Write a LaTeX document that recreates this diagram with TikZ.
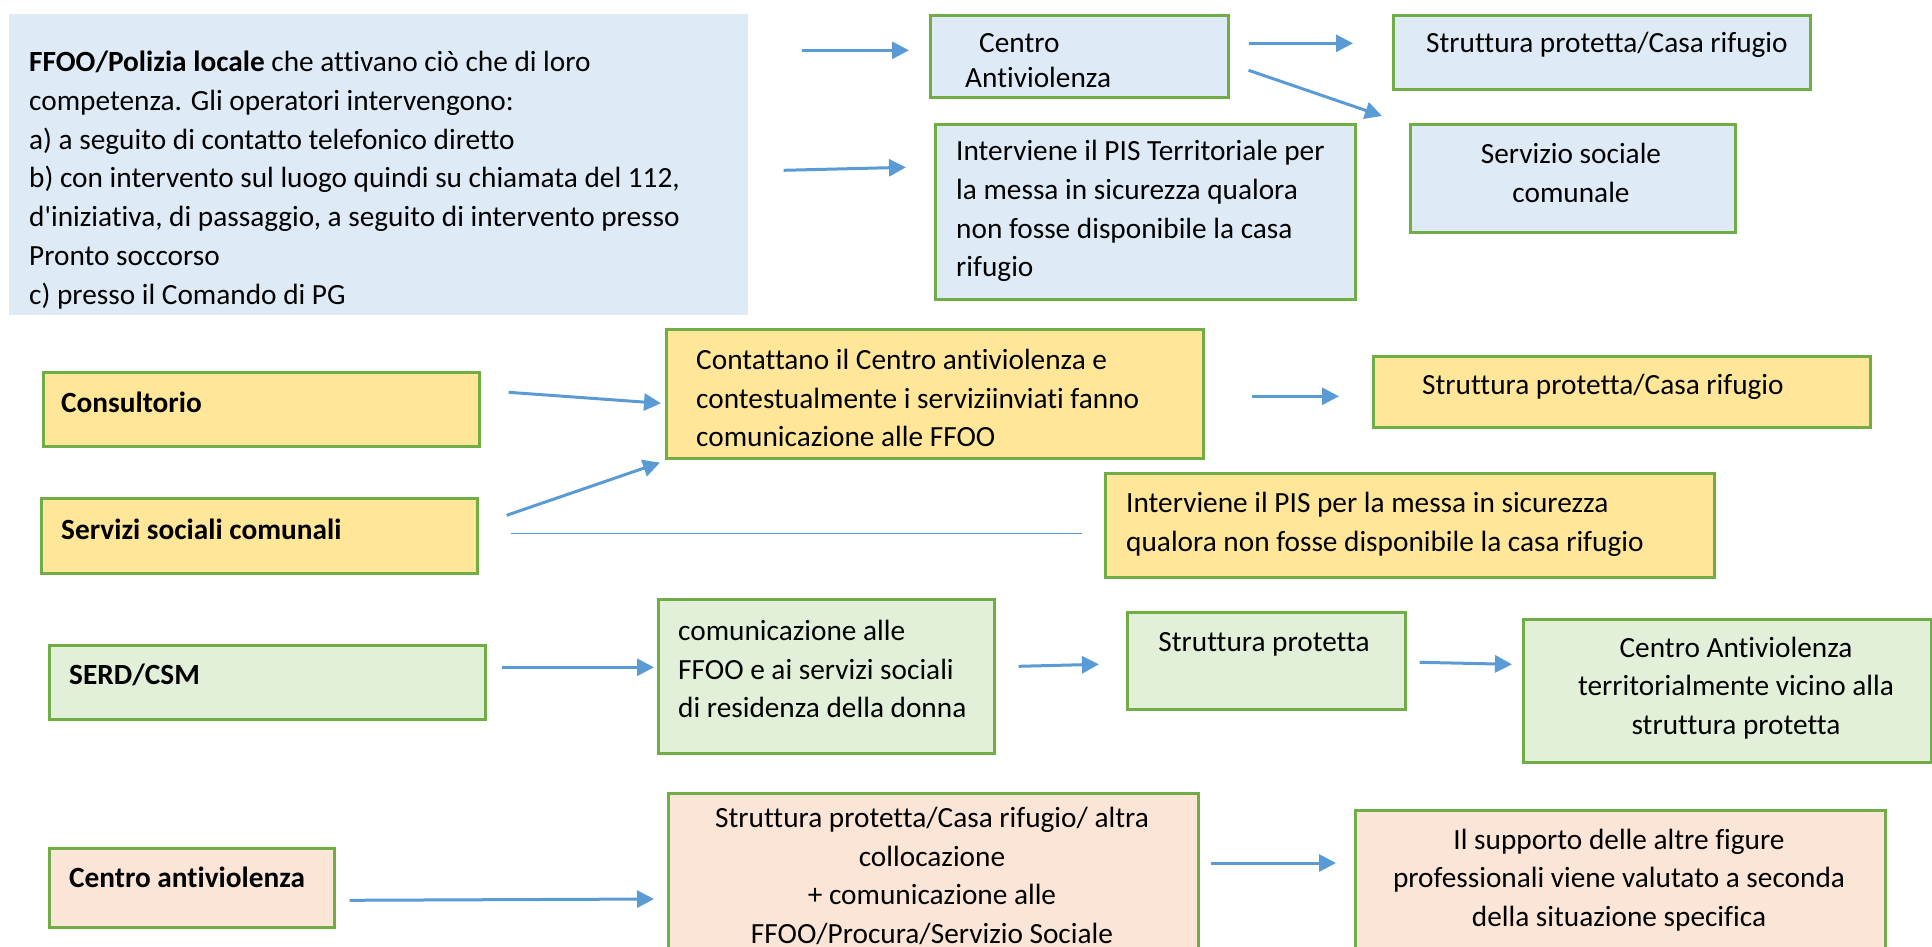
\documentclass[tikz,border=0pt]{standalone}
\usepackage{fontspec}
\setmainfont{Carlito}[Ligatures={TeX,NoCommon}]
\usetikzlibrary{arrows.meta}

\definecolor{bluefill}{HTML}{DEEBF7}
\definecolor{yellowfill}{HTML}{FFE699}
\definecolor{greenfill}{HTML}{E2F0D9}
\definecolor{peachfill}{HTML}{FBE5D6}
\definecolor{boxline}{HTML}{70AD47}
\definecolor{arrowblue}{HTML}{5B9BD5}

\tikzset{
  box/.style={draw=boxline, line width=2.6pt, anchor=north west, inner sep=0pt},
  txt/.style={inner sep=0pt, font=\fontsize{29.3}{38.7}\selectfont},
  boldtxt/.style={txt, anchor=west, font=\fontsize{29.3}{38.7}\selectfont\bfseries},
  arr/.style={draw=arrowblue, line width=3pt, -{Triangle[length=17pt,width=17pt]}},
}

\begin{document}
\begin{tikzpicture}[x=1pt, y=-1pt]
  \useasboundingbox (0, 0) rectangle (1932, 946);
  \clip (0, 0) rectangle (1932, 946);

  \node[box, draw=none, fill=bluefill, minimum width=739pt, minimum height=301pt] (ffoo) at (8, 13) {};
  \node[box, fill=bluefill, minimum width=298pt, minimum height=82pt] (ca) at (929, 14) {};
  \node[box, fill=bluefill, minimum width=420pt, minimum height=175pt] (pis1) at (934, 123) {};
  \node[box, fill=bluefill, minimum width=417pt, minimum height=74pt] (sp1) at (1392, 14) {};
  \node[box, fill=bluefill, minimum width=325pt, minimum height=108pt] (ss1) at (1409, 123) {};

  \node[box, fill=yellowfill, minimum width=436pt, minimum height=74pt] (cons) at (42, 371) {};
  \node[box, fill=yellowfill, minimum width=436pt, minimum height=75pt] (serv) at (40, 497) {};
  \node[box, fill=yellowfill, minimum width=537pt, minimum height=129pt] (cont) at (665, 328) {};
  \node[box, fill=yellowfill, minimum width=497pt, minimum height=71pt] (sp2) at (1372, 355) {};
  \node[box, fill=yellowfill, minimum width=609pt, minimum height=104pt] (pis2) at (1104, 472) {};

  \node[box, fill=greenfill, minimum width=436pt, minimum height=74pt] (serd) at (48, 644) {};
  \node[box, fill=greenfill, minimum width=336pt, minimum height=154pt] (com) at (657, 598) {};
  \node[box, fill=greenfill, minimum width=278pt, minimum height=97pt] (spg) at (1126, 611) {};
  \node[box, fill=greenfill, minimum width=408pt, minimum height=143pt] (cavt) at (1522, 618) {};

  \node[box, fill=peachfill, minimum width=285pt, minimum height=79pt] (cav) at (48, 847) {};
  \node[box, fill=peachfill, minimum width=530pt, minimum height=200pt] (spa) at (667, 792) {};
  \node[box, fill=peachfill, minimum width=530pt, minimum height=200pt] (sup) at (1354, 809) {};

  \node[txt, anchor=west, align=left] (ffoo-t) at (29, 180)
    {{\bfseries FFOO/Polizia locale} che attivano ciò che di loro\\
     competenza. Gli operatori intervengono:\\
     a) a seguito di contatto telefonico diretto\\
     b) con intervento sul luogo quindi su chiamata del 112,\\
     d\textquotesingle iniziativa, di passaggio, a seguito di intervento presso\\
     Pronto soccorso\\
     c) presso il Comando di PG};
  \node[txt, anchor=west, align=left, font=\fontsize{29.3}{35}\selectfont] (ca-t) at (965, 61)
    {\hspace*{14pt}Centro\\Antiviolenza};
  \node[txt, anchor=west, align=left] (pis1-t) at (956, 211)
    {Interviene il PIS Territoriale per\\la messa in sicurezza qualora\\non fosse disponibile la casa\\rifugio};
  \node[txt, anchor=west] (sp1-t) at (1426, 45) {Struttura protetta/Casa rifugio};
  \node[txt, align=center] (ss1-t) at (1571, 173) {Servizio sociale\\comunale};

  \node[boldtxt] (cons-t) at (61, 402) {Consultorio};
  \node[boldtxt] (serv-t) at (61, 529) {Servizi sociali comunali};
  \node[txt, anchor=west, align=left] (cont-t) at (696, 398)
    {Contattano il Centro antiviolenza e\\contestualmente i serviziinviati fanno\\comunicazione alle FFOO};
  \node[txt, anchor=west] (sp2-t) at (1422, 387) {Struttura protetta/Casa rifugio};
  \node[txt, anchor=west, align=left] (pis2-t) at (1126, 524)
    {Interviene il PIS per la messa in sicurezza\\qualora non fosse disponibile la casa rifugio};

  \node[boldtxt] (serd-t) at (69, 675) {SERD/CSM};
  \node[txt, anchor=west, align=left] (com-t) at (678, 669)
    {comunicazione alle\\FFOO e ai servizi sociali\\di residenza della donna};
  \node[txt] (spg-t) at (1264, 644) {Struttura protetta};
  \node[txt, align=center] (cavt-t) at (1736, 688)
    {Centro Antiviolenza\\territorialmente vicino alla\\struttura protetta};

  \node[boldtxt] (cav-t) at (69, 877) {Centro antiviolenza};
  \node[txt, align=center] (spa-t) at (932, 876)
    {Struttura protetta/Casa rifugio/ altra\\collocazione\\+ comunicazione alle\\FFOO/Procura/Servizio Sociale};
  \node[txt, align=center] (sup-t) at (1619, 880)
    {Il supporto delle altre figure\\professionali viene valutato a seconda\\della situazione specifica};

  \draw[arr] ([xshift=52pt, yshift=6pt]ffoo.east |- ca.west) -- ([xshift=-20pt, yshift=6pt]ca.west);
  \draw[arr] ([xshift=34pt, yshift=-5.5pt]ffoo.east) -- ([xshift=-28pt, yshift=44.5pt]pis1.west);
  \draw[arr] ([xshift=19pt, yshift=13pt]ca.east) -- ([xshift=-39pt, yshift=9pt]sp1.west);
  \draw[arr] ([xshift=19pt, yshift=-14pt]ca.east) -- ([xshift=-27pt, yshift=7pt]ss1.north west);

  \draw[arr] ([xshift=28pt, yshift=17pt]cons.east) -- ([xshift=-4pt, yshift=-9.5pt]cont.west);
  \draw[arr] ([xshift=28pt, yshift=20.5pt]serv.east) -- ([xshift=-5pt, yshift=-3pt]cont.south west);
  \draw[arrowblue, line width=1.5pt] ([xshift=32pt, yshift=2.5pt]serv.east) -- ([xshift=-22pt, yshift=-8pt]pis2.west);
  \draw[arr] ([xshift=47pt, yshift=-2.5pt]cont.east) -- ([xshift=-33pt, yshift=-4.5pt]sp2.west);

  \draw[arr] ([xshift=15pt, yshift=15pt]serd.east) -- ([xshift=-3pt, yshift=9pt]com.west);
  \draw[arr] ([xshift=23pt, yshift=10pt]com.east) -- ([xshift=-27pt, yshift=-3.5pt]spg.west);
  \draw[arr] ([xshift=13pt, yshift=-1.5pt]spg.east) -- ([xshift=-10pt, yshift=26.5pt]cavt.west);

  \draw[arr] ([xshift=14pt, yshift=-12.5pt]cav.east) -- ([xshift=-13pt, yshift=-107pt]spa.north west);
  \draw[arr] ([xshift=11pt, yshift=-71pt]spa.north east) -- ([xshift=-18pt, yshift=-54pt]sup.north west);
\end{tikzpicture}
\end{document}
